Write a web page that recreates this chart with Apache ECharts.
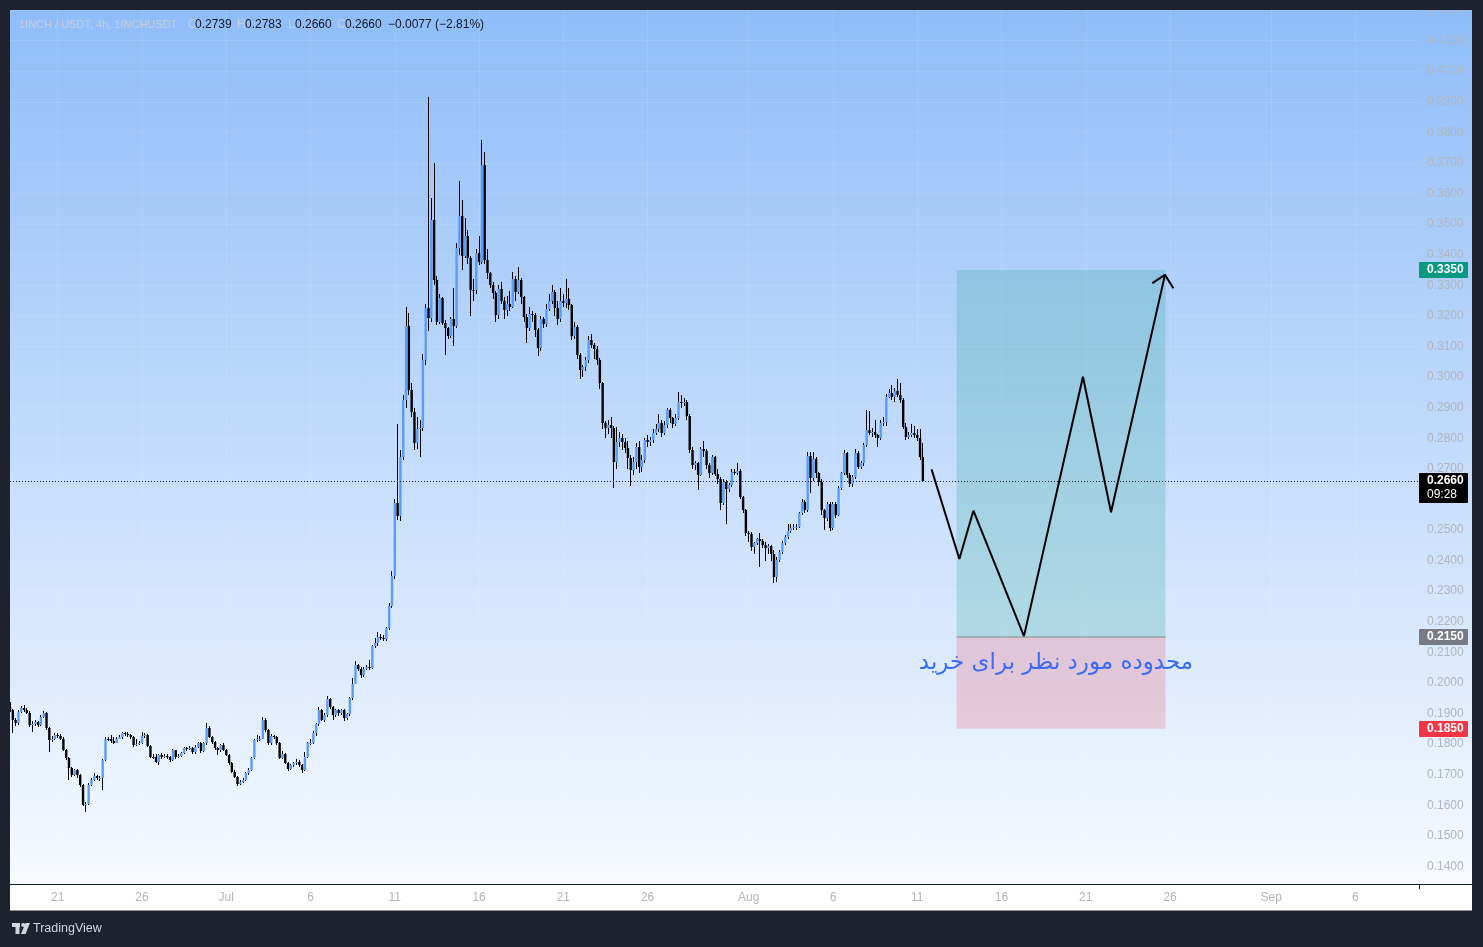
<!DOCTYPE html>
<html>
<head>
<meta charset="utf-8">
<title>1INCH / USDT 4h</title>
<script src="https://cdn.jsdelivr.net/npm/echarts/dist/echarts.min.js"></script>
<style>
html,body{margin:0;padding:0;background:#1e222d;}
#c{width:1483px;height:947px;}
</style>
</head>
<body>
<div id="c"></div>
<script>
// ---------------- DATA (4h candles, 1INCHUSDT, from 2023-06-18 04:00) ----------------
const firstCandle = '2023-06-18 04:00';
const slotCount = 503; // 4h slots shown on the time axis (through early September)

const opens = [
.1922,.1911,.1879,.1868,.1906,.1917,.1911,.1903,.1862,.1866,
.1871,.1862,.1890,.1901,.1851,.1813,.1818,.1830,.1827,.1818,
.1781,.1753,.1721,.1699,.1715,.1699,.1667,.1601,.1604,.1667,
.1683,.1694,.1688,.1690,.1748,.1818,.1815,.1810,.1805,.1818,
.1822,.1835,.1832,.1829,.1824,.1797,.1800,.1803,.1826,.1830,
.1794,.1759,.1757,.1743,.1764,.1759,.1762,.1757,.1748,.1779,
.1759,.1762,.1770,.1786,.1783,.1787,.1773,.1792,.1802,.1777,
.1802,.1853,.1824,.1807,.1786,.1780,.1797,.1780,.1764,.1737,
.1710,.1693,.1671,.1677,.1682,.1704,.1715,.1753,.1813,.1815,
.1818,.1878,.1846,.1802,.1826,.1822,.1802,.1756,.1769,.1739,
.1720,.1731,.1737,.1743,.1731,.1715,.1759,.1802,.1804,.1837,
.1865,.1911,.1880,.1895,.1946,.1920,.1895,.1911,.1900,.1911,
.1884,.1897,.1949,.1998,.2058,.2047,.2026,.2047,.2053,.2049,
.2120,.2131,.2151,.2146,.2142,.2178,.2251,.2349,.2587,.2545,
.2739,.2925,.3167,.2957,.2886,.2785,.2829,.2832,.3056,.3225,
.3192,.3513,.3317,.3181,.3257,.3177,.3159,.3134,.3189,.3167,
.3421,.3527,.3396,.3461,.3388,.3285,.3283,.3404,.3377,.3693,
.3382,.3339,.3301,.3274,.3203,.3288,.3250,.3219,.3239,.3230,
.3321,.3279,.3317,.3261,.3197,.3159,.3205,.3203,.3154,.3094,
.3189,.3175,.3224,.3250,.3279,.3225,.3189,.3250,.3243,.3254,
.3235,.3134,.3165,.3072,.3023,.3032,.3056,.3121,.3105,.3091,
.3056,.2979,.2849,.2832,.2843,.2835,.2723,.2789,.2800,.2789,
.2767,.2734,.2696,.2723,.2772,.2705,.2729,.2794,.2786,.2794,
.2818,.2829,.2849,.2818,.2843,.2892,.2865,.2846,.2865,.2919,
.2914,.2919,.2873,.2761,.2712,.2718,.2680,.2765,.2758,.2712,
.2687,.2737,.2683,.2666,.2589,.2658,.2633,.2647,.2691,.2687,
.2693,.2607,.2565,.2489,.2486,.2445,.2456,.2469,.2465,.2451,
.2440,.2448,.2421,.2345,.2402,.2429,.2458,.2476,.2497,.2505,
.2509,.2511,.2554,.2591,.2565,.2742,.2669,.2731,.2685,.2658,
.2565,.2538,.2585,.2505,.2585,.2549,.2637,.2685,.2750,.2680,
.2650,.2674,.2750,.2707,.2718,.2778,.2827,.2816,.2821,.2810,
.2800,.2849,.2854,.2936,.2947,.2936,.2953,.2941,.2926,.2838,
.2805,.2812,.2816,.2809,.2800,.2739];

const highs = [
.1939,.1915,.1885,.1912,.1925,.1928,.1918,.1908,.1877,.1878,
.1875,.1895,.1908,.1905,.1855,.1825,.1836,.1835,.1832,.1822,
.1785,.1757,.1725,.1720,.1719,.1703,.1671,.1612,.1672,.1690,
.1705,.1698,.1696,.1752,.1822,.1823,.1830,.1822,.1824,.1830,
.1840,.1840,.1838,.1833,.1828,.1815,.1809,.1840,.1836,.1834,
.1798,.1768,.1766,.1768,.1770,.1766,.1766,.1760,.1783,.1782,
.1768,.1775,.1790,.1792,.1795,.1792,.1796,.1806,.1806,.1808,
.1868,.1858,.1828,.1811,.1792,.1800,.1805,.1784,.1768,.1741,
.1714,.1697,.1683,.1688,.1708,.1722,.1757,.1817,.1830,.1826,
.1890,.1885,.1850,.1832,.1830,.1828,.1806,.1778,.1772,.1742,
.1735,.1742,.1750,.1747,.1735,.1775,.1806,.1818,.1842,.1870,
.1920,.1916,.1900,.1958,.1950,.1924,.1916,.1915,.1915,.1915,
.1902,.1953,.2015,.2070,.2063,.2052,.2052,.2060,.2075,.2125,
.2148,.2165,.2160,.2155,.2183,.2260,.2365,.2600,.2848,.2760,
.2940,.3230,.3208,.2980,.2900,.2870,.2860,.3075,.3240,.3916,
.3584,.3699,.3330,.3270,.3262,.3185,.3165,.3195,.3290,.3437,
.3640,.3580,.3520,.3480,.3395,.3320,.3420,.3460,.3775,.3737,
.3420,.3345,.3310,.3280,.3300,.3310,.3262,.3265,.3280,.3345,
.3330,.3360,.3325,.3265,.3205,.3230,.3215,.3210,.3160,.3200,
.3195,.3240,.3270,.3300,.3285,.3250,.3290,.3270,.3320,.3290,
.3240,.3180,.3170,.3078,.3040,.3065,.3135,.3140,.3112,.3100,
.3062,.2985,.2855,.2860,.2870,.2840,.2838,.2820,.2815,.2800,
.2790,.2745,.2740,.2785,.2790,.2745,.2800,.2810,.2805,.2830,
.2845,.2880,.2860,.2855,.2900,.2900,.2870,.2880,.2952,.2940,
.2930,.2925,.2880,.2770,.2725,.2722,.2770,.2790,.2765,.2718,
.2745,.2742,.2700,.2672,.2665,.2662,.2655,.2700,.2700,.2718,
.2700,.2612,.2570,.2495,.2492,.2462,.2475,.2489,.2470,.2460,
.2455,.2452,.2435,.2410,.2435,.2465,.2485,.2520,.2520,.2518,
.2520,.2560,.2600,.2598,.2755,.2755,.2755,.2740,.2690,.2665,
.2570,.2590,.2590,.2590,.2590,.2645,.2690,.2760,.2755,.2685,
.2680,.2765,.2758,.2725,.2785,.2892,.2890,.2835,.2860,.2815,
.2860,.2870,.2945,.2960,.2975,.2965,.2993,.2980,.2930,.2850,
.2820,.2845,.2840,.2830,.2830,.2783];

const lows = [
.1905,.1835,.1860,.1862,.1900,.1905,.1898,.1855,.1840,.1860,
.1855,.1858,.1885,.1845,.1775,.1808,.1812,.1820,.1812,.1776,
.1748,.1683,.1693,.1694,.1690,.1660,.1596,.1579,.1600,.1662,
.1680,.1683,.1680,.1650,.1745,.1810,.1805,.1800,.1802,.1815,
.1818,.1826,.1823,.1818,.1790,.1795,.1796,.1800,.1820,.1790,
.1753,.1750,.1738,.1730,.1752,.1754,.1750,.1740,.1745,.1752,
.1756,.1758,.1766,.1778,.1779,.1768,.1769,.1788,.1772,.1774,
.1798,.1820,.1800,.1780,.1764,.1775,.1776,.1760,.1733,.1705,
.1688,.1662,.1665,.1672,.1678,.1700,.1712,.1750,.1808,.1810,
.1815,.1840,.1798,.1798,.1815,.1797,.1750,.1752,.1734,.1712,
.1716,.1726,.1733,.1726,.1705,.1712,.1755,.1798,.1800,.1825,
.1860,.1876,.1872,.1890,.1915,.1880,.1890,.1893,.1895,.1875,
.1880,.1893,.1945,.1995,.2040,.2016,.2020,.2043,.2042,.2045,
.2115,.2120,.2140,.2138,.2138,.2173,.2245,.2340,.2532,.2530,
.2730,.2900,.2940,.2870,.2761,.2765,.2739,.2825,.3040,.3150,
.3180,.3300,.3170,.3175,.3170,.3072,.3125,.3128,.3100,.3160,
.3400,.3350,.3390,.3370,.3200,.3250,.3270,.3365,.3370,.3370,
.3320,.3290,.3255,.3180,.3190,.3240,.3190,.3200,.3215,.3225,
.3250,.3270,.3240,.3180,.3110,.3150,.3180,.3130,.3070,.3085,
.3160,.3165,.3215,.3240,.3200,.3170,.3180,.3230,.3225,.3220,
.3120,.3125,.3060,.2995,.3000,.3020,.3045,.3095,.3060,.3040,
.2960,.2830,.2800,.2815,.2800,.2636,.2700,.2770,.2760,.2750,
.2700,.2645,.2680,.2700,.2685,.2690,.2720,.2770,.2775,.2785,
.2810,.2820,.2805,.2810,.2835,.2850,.2835,.2840,.2860,.2900,
.2905,.2860,.2750,.2700,.2695,.2631,.2675,.2740,.2700,.2670,
.2680,.2675,.2650,.2565,.2580,.2519,.2625,.2640,.2680,.2680,
.2600,.2555,.2480,.2460,.2430,.2420,.2450,.2380,.2440,.2400,
.2420,.2400,.2325,.2330,.2395,.2420,.2450,.2470,.2490,.2500,
.2500,.2505,.2548,.2555,.2560,.2620,.2660,.2670,.2645,.2550,
.2500,.2530,.2495,.2500,.2540,.2545,.2630,.2680,.2670,.2640,
.2640,.2665,.2700,.2700,.2710,.2770,.2810,.2805,.2800,.2770,
.2795,.2840,.2840,.2930,.2925,.2920,.2935,.2915,.2830,.2795,
.2798,.2805,.2800,.2790,.2730,.2660];

const closes = [
.1911,.1879,.1868,.1906,.1917,.1911,.1903,.1862,.1866,.1871,
.1862,.1890,.1901,.1851,.1813,.1818,.1830,.1827,.1818,.1781,
.1753,.1721,.1699,.1715,.1699,.1667,.1601,.1604,.1667,.1683,
.1694,.1688,.1690,.1748,.1818,.1815,.1810,.1805,.1818,.1822,
.1835,.1832,.1829,.1824,.1797,.1800,.1803,.1826,.1830,.1794,
.1759,.1757,.1743,.1764,.1759,.1762,.1757,.1748,.1779,.1759,
.1762,.1770,.1786,.1783,.1787,.1773,.1792,.1802,.1777,.1802,
.1853,.1824,.1807,.1786,.1780,.1797,.1780,.1764,.1737,.1710,
.1693,.1671,.1677,.1682,.1704,.1715,.1753,.1813,.1815,.1818,
.1878,.1846,.1802,.1826,.1822,.1802,.1756,.1769,.1739,.1720,
.1731,.1737,.1743,.1731,.1715,.1759,.1802,.1804,.1837,.1865,
.1911,.1880,.1895,.1946,.1920,.1895,.1911,.1900,.1911,.1884,
.1897,.1949,.1998,.2058,.2047,.2026,.2047,.2053,.2049,.2120,
.2131,.2151,.2146,.2142,.2178,.2251,.2349,.2587,.2545,.2739,
.2925,.3167,.2957,.2886,.2785,.2829,.2832,.3056,.3225,.3192,
.3513,.3317,.3181,.3257,.3177,.3159,.3134,.3189,.3167,.3421,
.3527,.3396,.3461,.3388,.3285,.3283,.3404,.3377,.3693,.3382,
.3339,.3301,.3274,.3203,.3288,.3250,.3219,.3239,.3230,.3321,
.3279,.3317,.3261,.3197,.3159,.3205,.3203,.3154,.3094,.3189,
.3175,.3224,.3250,.3279,.3225,.3189,.3250,.3243,.3254,.3235,
.3134,.3165,.3072,.3023,.3032,.3056,.3121,.3105,.3091,.3056,
.2979,.2849,.2832,.2843,.2835,.2723,.2789,.2800,.2789,.2767,
.2734,.2696,.2723,.2772,.2705,.2729,.2794,.2786,.2794,.2818,
.2829,.2849,.2818,.2843,.2892,.2865,.2846,.2865,.2919,.2914,
.2919,.2873,.2761,.2712,.2718,.2680,.2765,.2758,.2712,.2687,
.2737,.2683,.2666,.2589,.2658,.2633,.2647,.2691,.2687,.2693,
.2607,.2565,.2489,.2486,.2445,.2456,.2469,.2465,.2451,.2440,
.2448,.2421,.2345,.2402,.2429,.2458,.2476,.2497,.2505,.2509,
.2511,.2554,.2591,.2565,.2742,.2669,.2731,.2685,.2658,.2565,
.2538,.2585,.2505,.2585,.2549,.2637,.2685,.2750,.2680,.2650,
.2674,.2750,.2707,.2718,.2778,.2827,.2816,.2821,.2810,.2800,
.2849,.2854,.2936,.2947,.2936,.2953,.2941,.2926,.2838,.2805,
.2812,.2816,.2809,.2800,.2739,.2660];

// time-axis tick labels
const xTickDates  = ['2023-06-21 00:00','2023-06-26 00:00','2023-07-01 00:00','2023-07-06 00:00','2023-07-11 00:00','2023-07-16 00:00','2023-07-21 00:00','2023-07-26 00:00','2023-08-01 00:00','2023-08-06 00:00','2023-08-11 00:00','2023-08-16 00:00','2023-08-21 00:00','2023-08-26 00:00','2023-09-01 00:00','2023-09-06 00:00'];
const xTickLabels = ['21','26','Jul','6','11','16','21','26','Aug','6','11','16','21','26','Sep','6'];

// price levels of the drawn long-position tool
const lastPrice = 0.2660;
const targetPrice = 0.3350;
const entryPrice = 0.2150;
const stopPrice = 0.1850;
const countdown = '09:28';
// zone horizontal extent, in 4h slots from the first candle
const zoneStart = 337.0;
const zoneEnd = 411.4;
// projected path (slot, price)
const pathSlots  = [328.1, 338.0, 343.0, 361.0, 382.0, 392.0, 411.2];
const pathPrices = [0.2698, 0.2405, 0.2563, 0.2153, 0.3001, 0.2558, 0.3334];
const arrowSlots  = [406.7, 411.2, 414.2];
const arrowPrices = [0.3307, 0.3334, 0.3290];
// annotation
const noteText = 'محدوده مورد نظر برای خرید';
const noteSlot = 372.4;
const notePrice = 0.2065;
// header
const headerTitle = '1INCH / USDT, 4h, 1INCHUSDT';
const headerOHLC = ['0.2739','0.2783','0.2660','0.2660'];
const headerChange = '\u22120.0077 (\u22122.81%)';

// ---------------- build ----------------
function pad(n){return (n<10?'0':'')+n;}
function fmt(d){return d.getUTCFullYear()+'-'+pad(d.getUTCMonth()+1)+'-'+pad(d.getUTCDate())+' '+pad(d.getUTCHours())+':'+pad(d.getUTCMinutes());}
const t0 = Date.parse(firstCandle.replace(' ','T')+':00Z');
const categories = [];
for (let k=0;k<slotCount;k++) categories.push(fmt(new Date(t0 + k*4*3600*1000)));
const tickLabelOf = {};
xTickDates.forEach((d,k)=>{tickLabelOf[d]=xTickLabels[k];});
const isTick = (i,v)=>Object.prototype.hasOwnProperty.call(tickLabelOf, v);

const candleData = opens.map((o,i)=>[i,o,closes[i],lows[i],highs[i]]);

const FONT = '"Liberation Sans", Arial, sans-serif';
const UP = '#5b9cf6', DOWN = '#000000';

const chart = echarts.init(document.getElementById('c'), null, {renderer:'canvas', width:1483, height:947});

const option = {
  animation:false,
  backgroundColor:'#1e222d',
  grid:{left:10, right:63, top:10, bottom:50},
  xAxis:[
    {type:'category', data:categories, boundaryGap:false,
     axisLine:{show:false}, axisTick:{show:false},
     axisLabel:{interval:isTick, formatter:(v)=>tickLabelOf[v]||'', color:'#b2b5be', fontSize:12, fontFamily:FONT, margin:1, verticalAlign:'middle'},
     splitLine:{show:true, interval:isTick, lineStyle:{color:'rgba(255,255,255,0.10)', width:1}}},
    {type:'value', min:0, max:slotCount-1, show:false}
  ],
  yAxis:[{type:'value', position:'right', min:0.13, max:0.42, interval:0.01,
    axisLine:{show:false}, axisTick:{show:false},
    axisLabel:{formatter:(v)=> v<0.135 ? '' : v.toFixed(4), color:'#b2b5be', fontSize:12, fontFamily:FONT, margin:7},
    splitLine:{show:true, lineStyle:{color:'rgba(255,255,255,0.10)', width:1}}}],
  series:[
    {type:'custom', name:'1INCHUSDT', xAxisIndex:0, yAxisIndex:0, clip:true, z:3,
     data:candleData, encode:{x:0, y:[1,2,3,4]},
     renderItem:function(params, api){
       const i = api.value(0);
       const o = api.value(1), c = api.value(2), l = api.value(3), h = api.value(4);
       const po = api.coord([i,o]);
       const cx = po[0];
       const yo = po[1], yc = api.coord([i,c])[1], yl = api.coord([i,l])[1], yh = api.coord([i,h])[1];
       const top = Math.round(Math.min(yo,yc)), bot = Math.round(Math.max(yo,yc));
       const wt = Math.round(yh), wb = Math.round(yl);
       return {type:'group', children:[
         {type:'rect', shape:{x:Math.round(cx-0.5), y:wt, width:1, height:Math.max(1, wb-wt)}, style:{fill:'#000'}},
         {type:'rect', shape:{x:cx-1.2, y:top, width:2.4, height:Math.max(1, bot-top)}, style:{fill: c>=o ? UP : DOWN}}
       ]};
     }},
    {type:'line', name:'path', xAxisIndex:1, yAxisIndex:0, z:5, symbol:'none', silent:true,
     data:pathSlots.map((s,k)=>[s,pathPrices[k]]),
     lineStyle:{color:'#000', width:2},
     markArea:{silent:true, data:[
       [{coord:[zoneStart,targetPrice], itemStyle:{color:'rgba(8,153,129,0.2)'}},{coord:[zoneEnd,entryPrice]}],
       [{coord:[zoneStart,entryPrice], itemStyle:{color:'rgba(242,54,69,0.2)'}},{coord:[zoneEnd,stopPrice]}]
     ]},
     markLine:{silent:true, precision:4, symbol:['none','none'], label:{show:false},
       lineStyle:{color:'#131722', width:1, type:[1,2]},
       data:[{yAxis:lastPrice}]}},
    {type:'line', name:'entry', xAxisIndex:1, yAxisIndex:0, z:4, symbol:'none', silent:true,
     data:[[zoneStart,entryPrice],[zoneEnd,entryPrice]], lineStyle:{color:'#8a8d96', width:1}},
    {type:'line', name:'arrow', xAxisIndex:1, yAxisIndex:0, z:5, symbol:'none', silent:true,
     data:arrowSlots.map((s,k)=>[s,arrowPrices[k]]), lineStyle:{color:'#000', width:2}}
  ]
};
chart.setOption(option);

// ---------------- decorations placed through the chart's own scales ----------------
const py = (v)=>chart.convertToPixel({yAxisIndex:0}, v);
const px = (s)=>chart.convertToPixel({xAxisIndex:1}, s);

const els = [];
// chart background gradient & time scale band (behind everything)
els.push({type:'rect', z:-10, shape:{x:10,y:10,width:1462,height:874},
  style:{fill:new echarts.graphic.LinearGradient(0,0,0,1,[{offset:0,color:'#8fbdf8'},{offset:1,color:'#f7faff'}])}});
els.push({type:'rect', z:-10, shape:{x:10,y:884,width:1462,height:27}, style:{fill:'#ffffff'}});
// outer dark frame
els.push({type:'rect', z:100, shape:{x:0,y:0,width:1483,height:10}, style:{fill:'#1e222d'}});
els.push({type:'rect', z:100, shape:{x:0,y:0,width:10,height:947}, style:{fill:'#1e222d'}});
els.push({type:'rect', z:100, shape:{x:1472,y:0,width:11,height:947}, style:{fill:'#1e222d'}});
els.push({type:'rect', z:100, shape:{x:0,y:911,width:1483,height:36}, style:{fill:'#1e222d'}});
els.push({type:'rect', z:101, shape:{x:10,y:910,width:1462,height:1}, style:{fill:'#8c8f99'}});
// time-scale border line
els.push({type:'rect', z:50, shape:{x:10,y:884,width:1462,height:1}, style:{fill:'#131b3a'}});
els.push({type:'rect', z:50, shape:{x:1419,y:884,width:1,height:5}, style:{fill:'#131b3a'}});

// header
const hdrY = 25;
els.push({type:'text', z:60, x:19, y:hdrY, style:{text:headerTitle, fill:'#c4cedd', font:'11px '+FONT, verticalAlign:'middle'}});
const hdrLetters = ['O','H','L','C'];
const hdrLetterX = [188, 237, 288, 337];
const hdrValueX  = [195, 245, 295, 345];
hdrLetters.forEach((t,k)=>{
  els.push({type:'text', z:60, x:hdrLetterX[k], y:hdrY, style:{text:t, fill:'#c4cedd', font:'12px '+FONT, verticalAlign:'middle'}});
  els.push({type:'text', z:60, x:hdrValueX[k], y:hdrY, style:{text:headerOHLC[k], fill:'#131722', font:'12px '+FONT, verticalAlign:'middle'}});
});
els.push({type:'text', z:60, x:388, y:hdrY, style:{text:headerChange, fill:'#131722', font:'12px '+FONT, verticalAlign:'middle'}});

// price tags on the price scale
function tag(value, bg, second){
  const y = py(value);
  const h = second ? 30 : 16;
  els.push({type:'rect', z:70, shape:{x:1419, y:Math.round(y)-8, width:49, height:h, r:1}, style:{fill:bg}});
  els.push({type:'text', z:71, x:1427, y:Math.round(y), style:{text:value.toFixed(4), fill:'#ffffff', font:'bold 12px '+FONT, verticalAlign:'middle'}});
  if (second) els.push({type:'text', z:71, x:1427, y:Math.round(y)+14, style:{text:second, fill:'#ffffff', font:'12px '+FONT, verticalAlign:'middle'}});
}
tag(targetPrice, '#089981');
tag(lastPrice, '#000000', countdown);
tag(entryPrice, '#787b86');
tag(stopPrice, '#f23645');

// annotation text
els.push({type:'text', z:60, x:px(noteSlot), y:py(notePrice),
  style:{text:noteText, fill:'#3a6cf4', font:'23px "DejaVu Sans", sans-serif', align:'center', verticalAlign:'middle'}});

// TradingView footer
els.push({type:'rect', z:110, shape:{x:12,y:923,width:8,height:4}, style:{fill:'#d1d4dc'}});
els.push({type:'rect', z:110, shape:{x:15.5,y:923,width:4,height:11}, style:{fill:'#d1d4dc'}});
els.push({type:'circle', z:110, shape:{cx:23.2,cy:925,r:2}, style:{fill:'#d1d4dc'}});
els.push({type:'polygon', z:110, shape:{points:[[21,934],[25.5,923],[30,923],[25.5,934]]}, style:{fill:'#d1d4dc'}});
els.push({type:'text', z:110, x:33, y:929, style:{text:'TradingView', fill:'#d1d4dc', font:'12.5px '+FONT, verticalAlign:'middle'}});

chart.setOption({graphic:{elements:els}});
</script>
</body>
</html>
